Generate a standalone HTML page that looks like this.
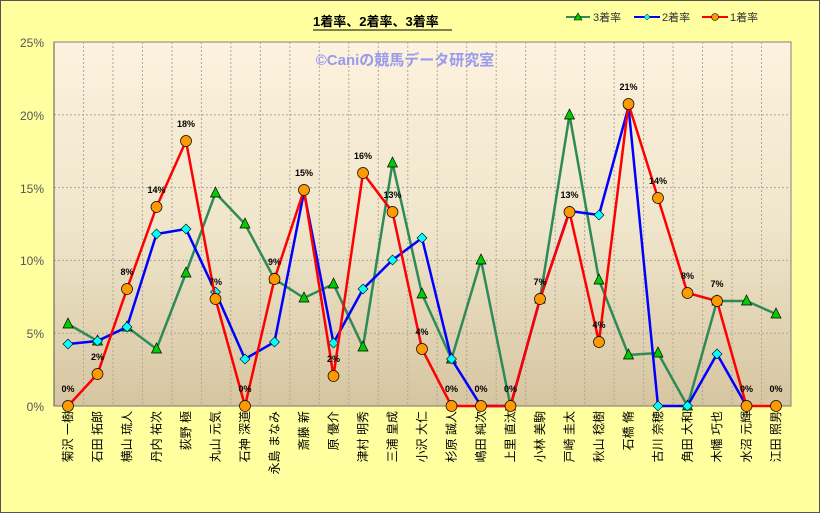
<!DOCTYPE html>
<html><head><meta charset="utf-8"><style>
html,body{margin:0;padding:0;background:#ffffa0}
svg{display:block}
</style></head><body>
<svg width="820" height="513" xmlns="http://www.w3.org/2000/svg" font-family="'Liberation Sans','Noto Sans CJK JP',sans-serif">
<defs>
<linearGradient id="bg" x1="0" y1="0" x2="0" y2="1">
<stop offset="0" stop-color="#fcf2de"/>
<stop offset="0.5" stop-color="#f0e6cc"/>
<stop offset="1" stop-color="#d6c5a0"/>
</linearGradient>
</defs>
<rect x="0.5" y="0.5" width="819" height="512" fill="#ffffa0" stroke="#555" stroke-width="1"/>
<rect x="54" y="42" width="737" height="364" fill="url(#bg)" stroke="#808080"/>
<g id="grid" stroke="#b0a898" stroke-dasharray="2,2" stroke-width="1"></g>
<line x1="54" y1="406" x2="791" y2="406" stroke="#777"/>
<line x1="54" y1="42" x2="54" y2="406" stroke="#555"/>
<g font-size="12" fill="#555" text-anchor="end">
<text x="44" y="47">25%</text><text x="44" y="120">20%</text><text x="44" y="193">15%</text>
<text x="44" y="265">10%</text><text x="44" y="338">5%</text><text x="44" y="411">0%</text>
</g>
<text x="405" y="65" font-size="15" font-weight="bold" fill="#9999ee" text-anchor="middle">©Caniの競馬データ研究室</text>
<text x="313" y="26" font-size="13" font-weight="bold" fill="#000">1着率、2着率、3着率</text>
<line x1="313" y1="30" x2="452" y2="30" stroke="#000"/>
<g font-size="11" fill="#333">
<line x1="566" y1="17" x2="590" y2="17" stroke="#2e8b57" stroke-width="2"/><polygon points="578,13 582,20 574,20" fill="#0c0" stroke="#000" stroke-width="0.6"/><text x="593" y="21">3着率</text>
<line x1="634" y1="17" x2="660" y2="17" stroke="#0000ff" stroke-width="2"/><polygon points="647,14 650,17 647,20 644,17" fill="#0ff" stroke="#000" stroke-width="0.5"/><text x="662" y="21">2着率</text>
<line x1="702" y1="17" x2="728" y2="17" stroke="#f00" stroke-width="2"/><circle cx="715" cy="17" r="3.5" fill="#f90" stroke="#000" stroke-width="0.6"/><text x="730" y="21">1着率</text>
</g>
<g id="series"></g>
<g id="labels" font-size="12" fill="#000" text-anchor="end"></g>
</svg>
<script>
var ns="http://www.w3.org/2000/svg";
function el(t,a,p){var e=document.createElementNS(ns,t);for(var k in a)e.setAttribute(k,a[k]);p.appendChild(e);return e;}
var g=document.getElementById('grid');
for(var i=1;i<25;i++){var x=54+i*29.48;el('line',{x1:x,y1:42,x2:x,y2:406},g);}
for(var j=1;j<5;j++){var y=406-j*72.8;el('line',{x1:54,y1:y,x2:791,y2:y},g);}
function X(i){return 68+i*29.5;}
var red=[406,374,289,207,141,299,406,279,190,376,173,212,349,406,406,406,299,212,342,104,198,293,301,406,406];
var rl=["0%","2%","8%","14%","18%","7%","0%","9%","15%","2%","16%","13%","4%","0%","0%","0%","7%","13%","4%","21%","14%","8%","7%","0%","0%"];
var blue=[344,341,327,234,229,292,359,342,192,343,289,260,238,359,406,406,299,211,215,107,406,406,354,406];
var green=[324,341,327,349,273,193,224,279,298,284,347,163,294,359,260,406,299,115,280,355,353,406,301,301,314];
var s=document.getElementById('series');
function pts(a){return a.map(function(y,i){return X(i)+','+y}).join(' ');}
el('polyline',{points:pts(green),fill:'none',stroke:'#2e8b57','stroke-width':2.5},s);
green.forEach(function(y,i){var x=X(i);el('polygon',{points:x+','+(y-6)+' '+(x+5)+','+(y+4)+' '+(x-5)+','+(y+4),fill:'#0c0',stroke:'#000','stroke-width':0.7},s);});
el('polyline',{points:pts(blue),fill:'none',stroke:'#0000ff','stroke-width':2.5},s);
blue.forEach(function(y,i){var x=X(i);el('polygon',{points:x+','+(y-5)+' '+(x+5)+','+y+' '+x+','+(y+5)+' '+(x-5)+','+y,fill:'#0ff',stroke:'#000','stroke-width':0.6},s);});
el('polyline',{points:pts(red),fill:'none',stroke:'#ff0000','stroke-width':2.5},s);
red.forEach(function(y,i){var x=X(i);el('circle',{cx:x,cy:y,r:5.5,fill:'#f90',stroke:'#000','stroke-width':0.7},s);
var t=el('text',{x:x,y:y-14,'font-size':9,'font-weight':'bold','text-anchor':'middle',fill:'#000'},s);t.textContent=rl[i];});
var names=["菊沢 一樹","石田 拓郎","横山 琉人","丹内 祐次","荻野 極","丸山 元気","石神 深道","永島 まなみ","斎藤 新","原 優介","津村 明秀","三浦 皇成","小沢 大仁","杉原 誠人","嶋田 純次","上里 直汰","小林 美駒","戸崎 圭太","秋山 稔樹","石橋  脩","古川 奈穂","角田 大和","木幡 巧也","水沼 元輝","江田 照男"];
var L=document.getElementById('labels');
names.forEach(function(n,i){var x=X(i)+4,y=411;var t=el('text',{x:x,y:y,transform:'rotate(-90 '+x+' '+y+')'},L);t.textContent=n;});
</script>
</body></html>
